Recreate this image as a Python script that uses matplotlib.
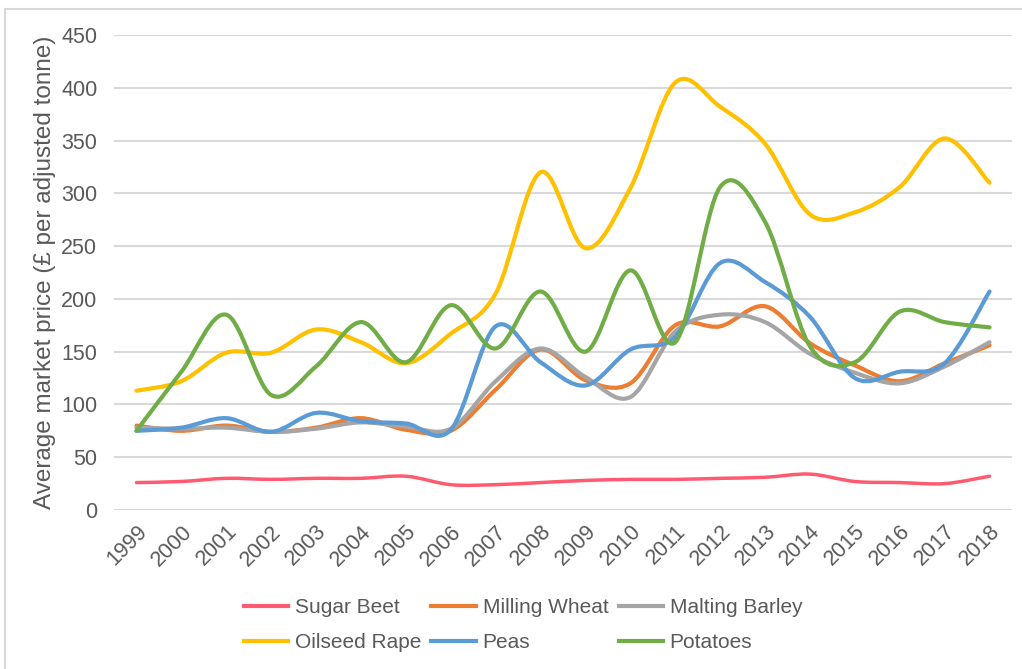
import numpy as np
import matplotlib
matplotlib.use('Agg')
import matplotlib.pyplot as plt
from matplotlib.path import Path
from matplotlib.patches import PathPatch
from matplotlib.lines import Line2D

plt.rcParams['font.family'] = ['Liberation Sans', 'DejaVu Sans']

# Dane
years = [str(y) for y in range(1999, 2019)]
sugar_beet = [26, 27, 30, 29, 30, 30, 32, 24, 24, 26, 28, 29, 29, 30, 31, 34, 27, 26, 25, 32]
milling_wheat = [80, 75, 80, 74, 78, 87, 76, 75, 114, 152, 123, 120, 175, 174, 193, 158, 137, 122, 139, 156]
malting_barley = [78, 77, 78, 74, 77, 83, 79, 77, 122, 153, 126, 107, 169, 185, 178, 148, 130, 120, 136, 159]
oilseed_rape = [113, 122, 149, 149, 171, 159, 139, 167, 205, 320, 248, 305, 405, 382, 347, 280, 282, 306, 352, 310]
peas = [75, 78, 87, 74, 92, 84, 82, 76, 174, 140, 118, 152, 164, 234, 216, 183, 125, 131, 139, 207]
potatoes = [75, 131, 185, 109, 136, 178, 140, 194, 153, 207, 150, 227, 159, 306, 273, 155, 140, 188, 178, 173]

series = [
    ('Sugar Beet', sugar_beet, '#FF5A70'),
    ('Milling Wheat', milling_wheat, '#ED7D31'),
    ('Malting Barley', malting_barley, '#A5A5A5'),
    ('Oilseed Rape', oilseed_rape, '#FFC000'),
    ('Peas', peas, '#5B9BD5'),
    ('Potatoes', potatoes, '#70AD47'),
]


def smooth_path(xs, ys):
    # wygładzona linia jak w Excelu (krzywe Beziera przez punkty)
    p = np.column_stack([xs, ys]).astype(float)
    ext = np.vstack([p[0], p, p[-1]])
    verts = [p[0]]
    codes = [Path.MOVETO]
    for i in range(len(p) - 1):
        p0, p1, p2, p3 = ext[i], ext[i + 1], ext[i + 2], ext[i + 3]
        verts += [p1 + (p2 - p0) / 6, p2 - (p3 - p1) / 6, p2]
        codes += [Path.CURVE4] * 3
    return Path(verts, codes)


fig = plt.figure(figsize=(10.22, 6.69), dpi=100)
ax = fig.add_axes([114 / 1022, 1 - 510 / 669, (1012 - 114) / 1022, (510 - 35) / 669])

x = np.arange(len(years))
handles = []
for name, vals, col in series:
    lw = 2.5 if name == 'Sugar Beet' else 3.0
    patch = PathPatch(smooth_path(x, vals), fill=False, edgecolor=col, lw=lw,
                      capstyle='round', joinstyle='round', zorder=3)
    ax.add_patch(patch)
    handles.append(Line2D([], [], color=col, lw=3, label=name))

ax.set_xlim(-0.5, len(years) - 0.5)
ax.set_ylim(0, 450)
ax.set_yticks(range(0, 451, 50))
ax.set_xticks(x)
ax.set_xticklabels(years, rotation=45, ha='right', va='top', rotation_mode='anchor')
ax.tick_params(axis='both', length=0, labelsize=15.5, colors='#595959')
ax.tick_params(axis='x', pad=8)
ax.tick_params(axis='y', pad=12)
ax.grid(axis='y', color='#D9D9D9', lw=1.5)
ax.set_axisbelow(True)
for s in ax.spines.values():
    s.set_visible(False)

ax.set_ylabel('Average market price (£ per adjusted tonne)', fontsize=17.5, color='#595959', labelpad=4)

# legenda wierszami (jak w Excelu)
order = [0, 3, 1, 4, 2, 5]
fig.legend(handles=[handles[i] for i in order], ncol=3, loc='center',
           bbox_to_anchor=(523 / 1022, 1 - 625 / 669),
           frameon=False, fontsize=15, labelcolor='#595959', handlelength=2.15,
           handletextpad=0.3, columnspacing=0.5, labelspacing=0.75)

# ramka wykresu
fig.add_artist(Line2D([5 / 1022, 1], [1 - 9 / 669, 1 - 9 / 669], color='#D9D9D9', lw=1.5))
fig.add_artist(Line2D([5 / 1022, 5 / 1022], [0, 1 - 9 / 669], color='#D9D9D9', lw=1.5))

fig.savefig('out.png', dpi=100)
